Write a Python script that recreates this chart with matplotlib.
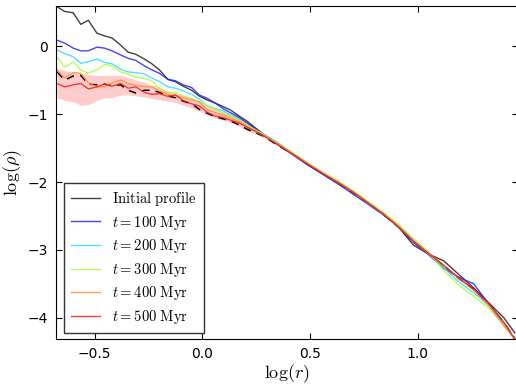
import matplotlib
matplotlib.use('Agg')
import matplotlib.pyplot as plt
import numpy as np

plt.rcParams['mathtext.fontset'] = 'cm'
plt.rcParams['font.family'] = 'DejaVu Sans'

# bin centres in log(r)
log_r = [-0.675, -0.64, -0.60, -0.565, -0.53, -0.49, -0.455, -0.42, -0.38, -0.345,
         -0.31, -0.27, -0.235, -0.20, -0.16, -0.125, -0.09, -0.05, -0.015, 0.02,
         0.06, 0.095, 0.13, 0.17, 0.205, 0.28, 0.35, 0.42, 0.49, 0.56,
         0.63, 0.70, 0.77, 0.84, 0.91, 0.98, 1.05, 1.12, 1.19, 1.26,
         1.33, 1.40, 1.45]

rho_init = [0.58, 0.51, 0.49, 0.32, 0.38, 0.19, 0.15, 0.12, 0.015, -0.09,
            -0.12, -0.19, -0.26, -0.35, -0.49, -0.525, -0.59, -0.65, -0.735, -0.79,
            -0.84, -0.89, -0.94, -1.03, -1.10, -1.29, -1.43, -1.59, -1.75, -1.88,
            -2.01, -2.14, -2.30, -2.46, -2.66, -2.93, -3.06, -3.16, -3.36, -3.56,
            -3.78, -4.00, -4.22]
rho_100 = [0.088, 0.044, -0.03, -0.07, -0.07, -0.015, -0.03, -0.07, -0.13, -0.18,
           -0.21, -0.29, -0.35, -0.40, -0.49, -0.51, -0.57, -0.61, -0.72, -0.765,
           -0.84, -0.92, -0.98, -1.05, -1.125, -1.30, -1.45, -1.60, -1.75, -1.89,
           -2.03, -2.18, -2.33, -2.48, -2.66, -2.89, -3.07, -3.27, -3.40, -3.50,
           -3.80, -4.08, -4.32]
rho_200 = [-0.06, -0.11, -0.157, -0.254, -0.23, -0.19, -0.24, -0.26, -0.34, -0.38,
           -0.39, -0.41, -0.47, -0.52, -0.60, -0.62, -0.66, -0.71, -0.78, -0.875,
           -0.92, -0.95, -1.01, -1.08, -1.16, -1.29, -1.42, -1.58, -1.73, -1.86,
           -2.00, -2.14, -2.30, -2.46, -2.64, -2.86, -3.06, -3.26, -3.47, -3.63,
           -3.82, -4.09, -4.31]
rho_300 = [-0.16, -0.31, -0.235, -0.35, -0.40, -0.35, -0.27, -0.29, -0.38, -0.41,
           -0.46, -0.475, -0.515, -0.62, -0.68, -0.69, -0.735, -0.77, -0.82, -0.87,
           -0.93, -0.98, -1.03, -1.09, -1.16, -1.30, -1.43, -1.57, -1.72, -1.86,
           -1.98, -2.13, -2.29, -2.45, -2.62, -2.83, -3.03, -3.30, -3.52, -3.68,
           -3.86, -4.10, -4.31]
rho_400 = [-0.35, -0.47, -0.39, -0.40, -0.54, -0.60, -0.60, -0.54, -0.50, -0.55,
           -0.58, -0.595, -0.60, -0.66, -0.71, -0.735, -0.76, -0.79, -0.82, -0.93,
           -0.98, -1.01, -1.06, -1.11, -1.18, -1.31, -1.44, -1.59, -1.73, -1.87,
           -2.00, -2.15, -2.31, -2.47, -2.65, -2.87, -3.05, -3.22, -3.42, -3.59,
           -3.82, -4.12, -4.30]
rho_500 = [-0.55, -0.60, -0.57, -0.55, -0.63, -0.60, -0.56, -0.59, -0.55, -0.62,
           -0.60, -0.68, -0.71, -0.70, -0.74, -0.72, -0.80, -0.85, -0.88, -0.97,
           -1.03, -1.05, -1.09, -1.13, -1.19, -1.31, -1.45, -1.59, -1.74, -1.88,
           -2.01, -2.15, -2.31, -2.47, -2.66, -2.87, -3.05, -3.23, -3.41, -3.58,
           -3.79, -4.07, -4.31]
rho_dashed = [-0.38, -0.50, -0.44, -0.43, -0.56, -0.57, -0.56, -0.58, -0.57, -0.65,
              -0.69, -0.65, -0.65, -0.68, -0.735, -0.76, -0.81, -0.85, -0.93, -0.985,
              -1.04, -1.07, -1.10, -1.16, -1.22, -1.32, -1.46, -1.59, -1.74, -1.88,
              -2.01, -2.16, -2.31, -2.48, -2.66, -2.88, -3.06, -3.23, -3.42, -3.58,
              -3.80, -4.07, -4.30]
band_hi = [-0.33, -0.36, -0.38, -0.40, -0.42, -0.43, -0.43, -0.43, -0.43, -0.46,
           -0.50, -0.53, -0.57, -0.61, -0.66, -0.69, -0.73, -0.77, -0.82, -0.87,
           -0.92, -0.96, -1.00, -1.05, -1.11, -1.28, -1.42, -1.56, -1.71, -1.85,
           -1.99, -2.13, -2.29, -2.45, -2.63, -2.85, -3.03, -3.21, -3.39, -3.56,
           -3.77, -4.05, -4.29]
band_lo = [-0.76, -0.80, -0.82, -0.87, -0.86, -0.80, -0.76, -0.76, -0.72, -0.72,
           -0.73, -0.75, -0.77, -0.79, -0.81, -0.83, -0.87, -0.91, -0.96, -1.01,
           -1.06, -1.09, -1.13, -1.18, -1.24, -1.34, -1.47, -1.61, -1.76, -1.90,
           -2.03, -2.17, -2.33, -2.49, -2.68, -2.89, -3.07, -3.25, -3.43, -3.60,
           -3.81, -4.09, -4.32]

labels = [r'$\mathrm{Initial\ profile}$', r'$t=100\ \mathrm{Myr}$', r'$t=200\ \mathrm{Myr}$',
          r'$t=300\ \mathrm{Myr}$', r'$t=400\ \mathrm{Myr}$', r'$t=500\ \mathrm{Myr}$']
colors = ['#202020', '#2222ff', '#33ddff', '#a8ff3a', '#ff9030', '#ff1a1a']
profiles = [rho_init, rho_100, rho_200, rho_300, rho_400, rho_500]

fig = plt.figure(figsize=(5.16, 3.84), dpi=100)
ax = fig.add_axes([56 / 516, 45 / 384, 462 / 516, 333 / 384])

ax.fill_between(log_r, band_lo, band_hi, color='red', alpha=0.2, linewidth=0)
ax.plot(log_r, rho_dashed, 'k--', linewidth=1.1, dashes=(5, 4))
for rho, c, lab in zip(profiles, colors, labels):
    ax.plot(log_r, rho, color=c, linewidth=1.0, alpha=0.85, label=lab)

ax.set_xlim(-0.68, 1.465)
ax.set_ylim(-4.31, 0.59)
ax.set_xticks([-0.5, 0.0, 0.5, 1.0])
ax.set_yticks([0, -1, -2, -3, -4])
ax.tick_params(direction='in', top=True, right=True, length=4, labelsize=10, pad=6)
ax.set_xlabel(r'$\log(r)$', fontsize=13, labelpad=1)
ax.set_ylabel(r'$\log(\rho)$', fontsize=13, labelpad=2)

# legend box sits a few pixels inside the lower-left corner
leg = ax.legend(loc='lower left', bbox_to_anchor=(8 / 462, 6 / 333), borderaxespad=0,
                fontsize=10.5, fancybox=False, framealpha=1, edgecolor='#333333',
                handlelength=2.0, borderpad=0.5, labelspacing=0.38)
leg.get_frame().set_linewidth(1.0)

plt.savefig('out.png', dpi=100)
plt.close()
